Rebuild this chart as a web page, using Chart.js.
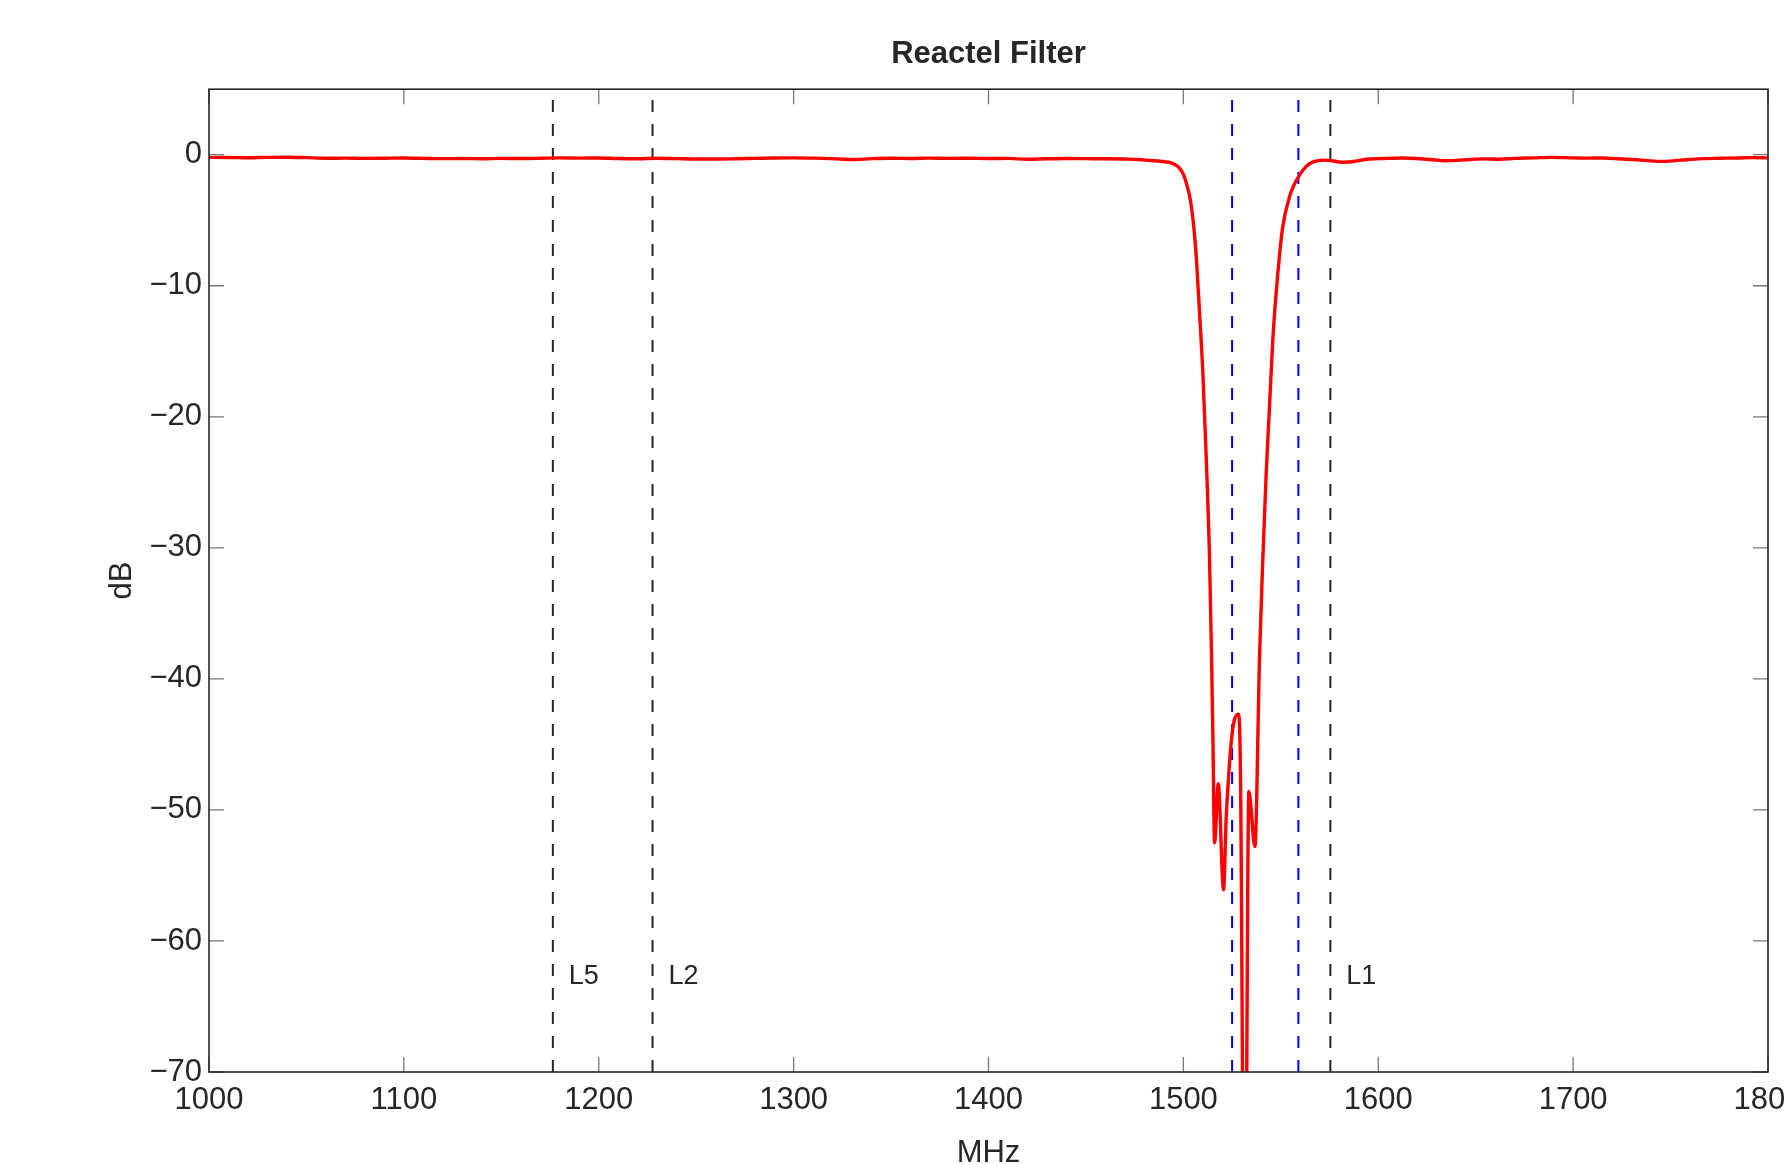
<!DOCTYPE html>
<html>
<head>
  <title>Reactel Filter</title>
  <style>
    html, body { margin: 0; padding: 0; background: #fff; overflow: hidden; }
    #wrap { width: 1830px; height: 1164px; }
  </style>
</head>
<body>
  <div id="wrap"><canvas id="filterChart"></canvas></div>

  <script src="https://cdn.jsdelivr.net/npm/chart.js"></script>
  <script>
    // response (MHz / dB)
    const freqMHz = [
      1000, 1010, 1020, 1030, 1040, 1050, 1060, 1070, 1080, 1090,
      1100, 1110, 1120, 1130, 1140, 1150, 1160, 1170, 1180, 1190,
      1200, 1210, 1220, 1230, 1240, 1250, 1260, 1270, 1280, 1290,
      1300, 1310, 1320, 1330, 1340, 1350, 1360, 1370, 1380, 1390,
      1400, 1410, 1420, 1430, 1440, 1450, 1460, 1470, 1477, 1483,
      1488, 1493, 1496, 1498, 1500, 1501.5, 1503, 1504.1, 1505.4, 1506.6,
      1508.3, 1510.0, 1511.7, 1513.4, 1514.4, 1515.2, 1516.0, 1517.9, 1520.6, 1522.0,
      1523.2, 1524.2, 1525.9, 1528.2, 1529.3, 1531.5, 1533.6, 1536.7, 1539.1, 1540.8,
      1542.5, 1544.2, 1545.9, 1548.5, 1551.0, 1554.5, 1556.8, 1558.7, 1561.5, 1564.7,
      1569, 1573.3, 1577, 1581, 1585, 1590, 1595, 1600, 1605, 1612,
      1620, 1628, 1634, 1640, 1647, 1654, 1662, 1670, 1680, 1689,
      1700, 1708, 1714, 1722, 1731, 1738, 1745, 1752, 1758, 1766,
      1775, 1785, 1792, 1800
    ];
    const gainDb = [
      -0.20, -0.21, -0.23, -0.20, -0.19, -0.22, -0.27, -0.26, -0.28, -0.27,
      -0.25, -0.28, -0.30, -0.29, -0.31, -0.28, -0.29, -0.27, -0.24, -0.26,
      -0.25, -0.29, -0.31, -0.27, -0.30, -0.33, -0.33, -0.31, -0.28, -0.25,
      -0.24, -0.26, -0.30, -0.37, -0.30, -0.27, -0.29, -0.26, -0.28, -0.27,
      -0.29, -0.28, -0.35, -0.31, -0.29, -0.30, -0.31, -0.33, -0.36, -0.44,
      -0.50, -0.59, -0.78, -1.02, -1.5, -2.16, -3.0, -3.95, -5.6, -7.76,
      -12.08, -16.66, -23.03, -30.66, -37.8, -45.0, -52.5, -48.0, -56.1, -50.5,
      -47.5, -45.4, -43.3, -42.7, -47.2, -90, -48.6, -52.8, -38.2, -30.7,
      -24.3, -19.2, -14.1, -9.0, -5.5, -3.2, -2.3, -1.78, -1.15, -0.69,
      -0.45, -0.41, -0.48, -0.57, -0.56, -0.45, -0.33, -0.30, -0.28, -0.25,
      -0.29, -0.38, -0.46, -0.43, -0.36, -0.32, -0.34, -0.28, -0.24, -0.20,
      -0.24, -0.26, -0.25, -0.30, -0.37, -0.45, -0.51, -0.46, -0.38, -0.30,
      -0.27, -0.25, -0.22, -0.24
    ];

    const xTicks = [1000, 1100, 1200, 1300, 1400, 1500, 1600, 1700, 1800];
    const yTicks = [-70, -60, -50, -40, -30, -20, -10, 0];

    // GPS carriers (black) and band edges (blue)
    const gpsFreqs = [1176.45, 1227.6, 1575.42];
    const gpsNames = ['L5', 'L2', 'L1'];
    const bandEdges = [1525, 1559];
    const nameLevelDb = -62.7;

    const textColor = '#262626';
    Chart.defaults.font.family = '"Liberation Sans", Arial, sans-serif';
    Chart.defaults.color = textColor;

    const vLine = (f, color) => ({
      data: [{ x: f, y: -70 }, { x: f, y: 5 }],
      borderColor: color,
      borderWidth: 2,
      borderDash: [12, 12],
      pointRadius: 0
    });

    // matlab style box, inward ticks, carrier names
    const axesBox = {
      id: 'axesBox',
      afterDatasetsDraw(chart) {
        const { ctx, chartArea: a, scales } = chart;
        const xs = scales.x, ys = scales.y;
        ctx.save();
        ctx.strokeStyle = '#777';
        ctx.lineWidth = 1.3;
        ctx.beginPath();
        xTicks.forEach(v => {
          const px = xs.getPixelForValue(v);
          ctx.moveTo(px, a.bottom); ctx.lineTo(px, a.bottom - 15);
          ctx.moveTo(px, a.top); ctx.lineTo(px, a.top + 15);
        });
        yTicks.forEach(v => {
          const py = ys.getPixelForValue(v);
          ctx.moveTo(a.left, py); ctx.lineTo(a.left + 15, py);
          ctx.moveTo(a.right, py); ctx.lineTo(a.right - 15, py);
        });
        ctx.stroke();

        ctx.strokeStyle = textColor;
        ctx.lineWidth = 1.6;
        ctx.strokeRect(a.left, a.top, a.right - a.left, a.bottom - a.top);

        ctx.fillStyle = textColor;
        ctx.font = '27px "Liberation Sans", Arial, sans-serif';
        ctx.textAlign = 'left';
        ctx.textBaseline = 'middle';
        gpsFreqs.forEach((f, i) => {
          ctx.fillText(gpsNames[i], xs.getPixelForValue(f) + 16, ys.getPixelForValue(nameLevelDb));
        });
        ctx.restore();
      }
    };

    new Chart(document.getElementById('filterChart'), {
      type: 'line',
      data: {
        datasets: [
          {
            data: freqMHz.map((f, i) => ({ x: f, y: gainDb[i] })),
            borderColor: '#ff0000',
            borderWidth: 3.4,
            pointRadius: 0,
            cubicInterpolationMode: 'monotone'
          },
          ...gpsFreqs.map(f => vLine(f, textColor)),
          ...bandEdges.map(f => vLine(f, '#0000ff'))
        ]
      },
      options: {
        responsive: true,
        maintainAspectRatio: false,
        animation: false,
        layout: { padding: { left: 0, top: 0, right: 62, bottom: 0 } },
        plugins: {
          legend: { display: false },
          tooltip: { enabled: false },
          title: {
            display: true,
            text: 'Reactel Filter',
            fullSize: false,
            color: textColor,
            font: { size: 31, weight: 'bold' },
            padding: { top: 36, bottom: 16 }
          }
        },
        scales: {
          x: {
            type: 'linear',
            min: 1000,
            max: 1800,
            grid: { display: false, drawTicks: false },
            border: { display: false },
            afterBuildTicks: s => { s.ticks = xTicks.map(v => ({ value: v })); },
            afterFit: s => { s.height = 92; },
            ticks: { font: { size: 31 }, padding: 10, maxRotation: 0, autoSkip: false, callback: v => String(v) },
            title: { display: true, text: 'MHz', font: { size: 31, lineHeight: 0.66 }, padding: 0 }
          },
          y: {
            min: -70,
            max: 5,
            grid: { display: false, drawTicks: false },
            border: { display: false },
            afterBuildTicks: s => { s.ticks = yTicks.map(v => ({ value: v })); },
            afterFit: s => { s.width = 209; },
            ticks: {
              font: { size: 31 },
              padding: 7,
              callback: v => (v < 0 ? '\u2212' + Math.abs(v) : String(v))
            },
            title: { display: true, text: 'dB', font: { size: 31 }, padding: { top: 104, bottom: 0 } }
          }
        }
      },
      plugins: [axesBox]
    });
  </script>
</body>
</html>
